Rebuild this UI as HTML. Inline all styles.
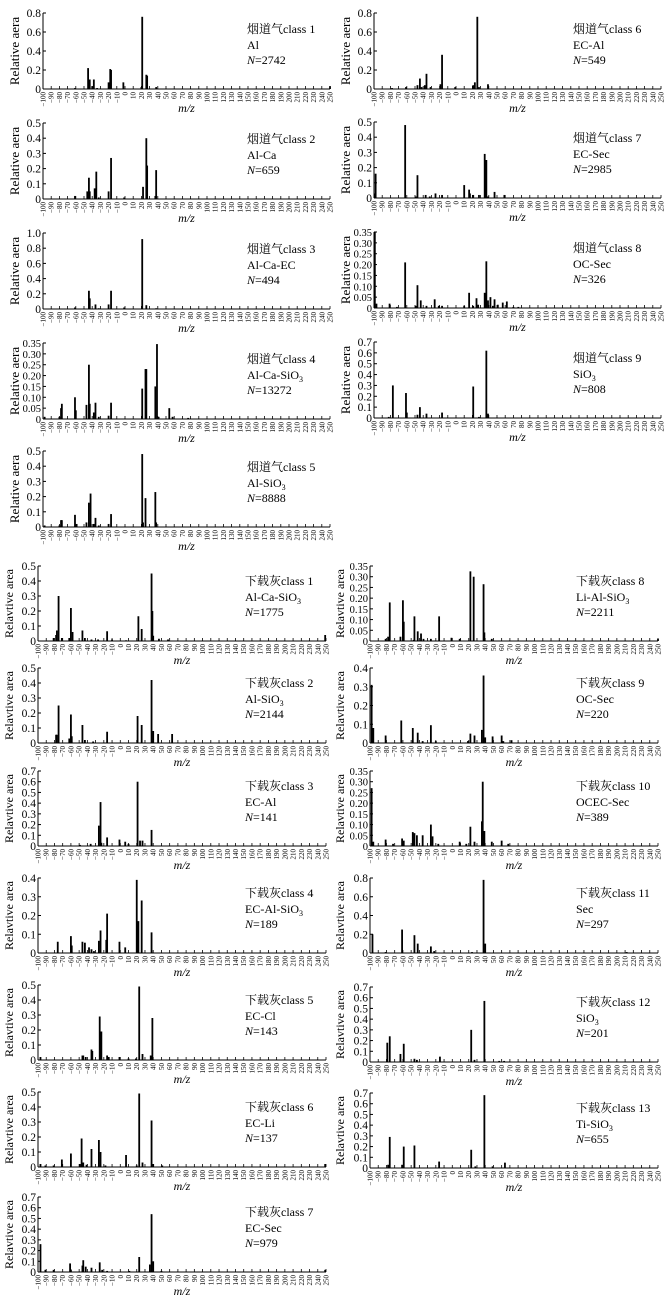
<!DOCTYPE html>
<html><head><meta charset="utf-8">
<style>
html,body{margin:0;padding:0;background:#fff;}
svg{display:block;font-family:"Liberation Serif","Noto Serif CJK SC","Noto Sans CJK SC",serif;}
</style></head>
<body>
<svg id="fig" width="672" height="1304" viewBox="0 0 672 1304" xmlns="http://www.w3.org/2000/svg"></svg>
<script>
// ---- data: m/z positions and relative areas per class ----
const f1_mz=[-61,-45,-43,-40,-38,-34,-20,-18,-17,-2,20,21,26,27,38,250];
const f1_val=[.01,.22,.1,.03,.1,.01,.07,.21,.2,.07,.02,.76,.15,.14,.02,.03];
const f2_mz=[-61,-46,-44,-43,-37,-35,-32,-20,-17,-1,22,26,27,37,38];
const f2_val=[.02,.05,.14,.05,.07,.18,.01,.05,.27,.01,.08,.4,.22,.02,.19];
const f3_mz=[-61,-44,-43,-36,-32,-20,-17,-1,21,26,38];
const f3_val=[.02,.24,.14,.06,.01,.06,.24,.02,.92,.05,.01];
const f4_mz=[-98,-80,-78,-77,-61,-60,-47,-44,-43,-38,-36,-32,-20,-17,21,25,26,37,39,41,54,58,77];
const f4_val=[.01,.01,.05,.07,.1,.04,.065,.25,.07,.03,.075,.01,.015,.075,.14,.23,.23,.15,.345,.01,.05,.01,.005];
const f5_mz=[-98,-80,-78,-77,-61,-59,-47,-44,-42,-38,-36,-32,-20,-17,21,22,25,37,38];
const f5_val=[.01,.01,.045,.045,.08,.02,.03,.16,.22,.02,.06,.01,.02,.085,.48,.03,.19,.23,.03];
const f6_mz=[-78,-61,-47,-44,-42,-38,-36,-31,-19,-17,-1,21,23,26,28,39];
const f6_val=[.01,.02,.04,.11,.02,.04,.16,.02,.05,.36,.02,.04,.07,.76,.02,.05];
const f7_mz=[-98,-99,-62,-49,-47,-37,-32,-25,-17,10,16,17,21,28,35,37,39,47,59];
const f7_val=[.16,.03,.48,.01,.15,.02,.01,.03,.02,.085,.055,.03,.02,.02,.29,.25,.01,.04,.02];
const f8_mz=[-99,-97,-81,-72,-62,-49,-47,-43,-36,-26,-21,-17,10,16,21,25,27,35,37,39,42,45,47,51,57,62,70,76];
const f8_val=[.35,.02,.02,.005,.21,.01,.105,.035,.01,.04,.01,.01,.01,.07,.01,.045,.015,.07,.215,.035,.05,.01,.04,.015,.025,.03,.005,.005];
const f9_mz=[-82,-77,-61,-60,-47,-44,-36,-17,21,28,37,39];
const f9_val=[.01,.3,.23,.05,.03,.1,.04,.05,.29,.01,.62,.04];
const d1_mz=[-81,-78,-77,-75,-71,-62,-60,-58,-46,-43,-35,-27,-16,-10,7,22,26,38,39,40,47,58,249];
const d1_val=[.02,.04,.07,.3,.02,.02,.22,.06,.07,.02,.01,.01,.065,.01,.005,.165,.08,.45,.2,.035,.015,.01,.04];
const d2_mz=[-78,-77,-75,-62,-60,-59,-46,-43,-33,-16,21,26,38,40,46,63];
const d2_val=[.055,.055,.25,.03,.19,.045,.12,.02,.01,.075,.18,.12,.42,.08,.06,.06];
const d3_mz=[-49,-36,-26,-24,-23,-16,-1,6,10,21,24,27,38];
const d3_val=[.01,.02,.19,.41,.03,.08,.06,.04,.02,.6,.05,.05,.15];
const d4_mz=[-76,-60,-59,-46,-43,-38,-35,-32,-26,-24,-17,-16,-1,6,20,22,26,38];
const d4_val=[.06,.09,.04,.06,.055,.03,.02,.01,.065,.12,.07,.21,.06,.03,.39,.17,.28,.11];
const d5_mz=[-97,-46,-45,-42,-35,-34,-25,-23,-16,-14,-1,10,19,23,27,37,39];
const d5_val=[.02,.03,.03,.02,.07,.06,.29,.19,.03,.02,.02,.01,.01,.49,.04,.03,.28];
const d6_mz=[-97,-91,-81,-71,-60,-49,-47,-45,-41,-35,-26,-24,-18,7,20,23,27,38,40,51,249];
const d6_val=[.02,.01,.01,.05,.09,.02,.19,.03,.015,.12,.18,.1,.01,.08,.01,.49,.03,.31,.02,.01,.02];
const d7_mz=[-97,-91,-81,-61,-60,-46,-45,-42,-35,-25,-22,-16,11,23,36,38,40,50,249];
const d7_val=[.26,.02,.02,.08,.02,.06,.11,.05,.04,.09,.02,.01,.01,.14,.07,.54,.1,.01,.02];
const d8_mz=[-81,-78,-76,-63,-60,-59,-47,-46,-42,-38,-35,-26,-16,-1,9,22,26,38,39,48,250];
const d8_val=[.01,.02,.18,.02,.19,.09,.005,.115,.045,.035,.01,.01,.115,.015,.01,.325,.3,.265,.04,.01,.01];
const d9_mz=[-98,-96,-81,-62,-48,-42,-36,-26,-20,19,22,27,36,38,40,49,60,62,72];
const d9_val=[.31,.08,.04,.12,.08,.055,.01,.095,.01,.01,.05,.04,.07,.36,.03,.035,.04,.01,.015];
const d10_mz=[-98,-96,-81,-72,-61,-59,-48,-46,-43,-36,-26,-24,-17,9,17,22,27,36,37,39,48,60,68];
const d10_val=[.27,.02,.03,.01,.035,.025,.065,.06,.05,.05,.1,.045,.01,.02,.01,.09,.02,.115,.3,.07,.02,.025,.01];
const d11_mz=[-97,-81,-61,-46,-42,-26,-22,24,38,40,212];
const d11_val=[.2,.01,.25,.19,.1,.07,.02,.01,.78,.1,.01];
const d12_mz=[-79,-76,-63,-59,-46,-43,-15,23,27,39,57,63];
const d12_val=[.18,.24,.075,.17,.03,.02,.05,.3,.02,.57,.01,.01];
const d13_mz=[-78,-76,-61,-59,-46,-16,23,28,39,49,64];
const d13_val=[.03,.29,.03,.2,.21,.06,.17,.015,.68,.015,.05];
// y-axis maxima and tick steps per class
const flueMax=[0.8,0.5,1.0,0.35,0.5,0.8,0.5,0.35,0.7];
const flueStep=[0.2,0.1,0.2,0.05,0.1,0.2,0.1,0.05,0.1];
const flueType=["Al","Al-Ca","Al-Ca-EC","Al-Ca-SiO3","Al-SiO3","EC-Al","EC-Sec","OC-Sec","SiO3"];
const flueN=["2742","659","494","13272","8888","549","2985","326","808"];
const ashMax=[0.5,0.5,0.7,0.4,0.5,0.5,0.7,0.35,0.4,0.35,0.8,0.7,0.7];
const ashStep=[0.1,0.1,0.1,0.1,0.1,0.1,0.1,0.05,0.1,0.05,0.2,0.1,0.1];
const ashType=["Al-Ca-SiO3","Al-SiO3","EC-Al","EC-Al-SiO3","EC-Cl","EC-Li","EC-Sec","Li-Al-SiO3","OC-Sec","OCEC-Sec","Sec","SiO3","Ti-SiO3"];
const ashN=["1775","2144","141","189","143","137","979","2211","220","389","297","201","655"];
const xTicks=[];for(let v=-100;v<=250;v+=10)xTicks.push(v);

const flueMz=[f1_mz,f2_mz,f3_mz,f4_mz,f5_mz,f6_mz,f7_mz,f8_mz,f9_mz];
const flueVal=[f1_val,f2_val,f3_val,f4_val,f5_val,f6_val,f7_val,f8_val,f9_val];
const ashMz=[d1_mz,d2_mz,d3_mz,d4_mz,d5_mz,d6_mz,d7_mz,d8_mz,d9_mz,d10_mz,d11_mz,d12_mz,d13_mz];
const ashVal=[d1_val,d2_val,d3_val,d4_val,d5_val,d6_val,d7_val,d8_val,d9_val,d10_val,d11_val,d12_val,d13_val];

const NS="http://www.w3.org/2000/svg";
const svg=document.getElementById('fig');
function mk(tag,attrs,parent){const e=document.createElementNS(NS,tag);for(const k in attrs)e.setAttribute(k,attrs[k]);(parent||svg).appendChild(e);return e;}

function panel(o){
  const g=mk('g',{});
  
  
  const xs=v=>o.x0+(v+100)/350*(o.x1-o.x0);
  const ys=v=>o.zero-v/o.max*o.h;
  const ya=mk('line',{x1:o.x0,y1:o.zero,x2:o.x0,y2:ys(o.max),stroke:'#000','stroke-width':1},g);
  
  
  const xa=mk('line',{x1:o.x0,y1:o.zero,x2:o.x1,y2:o.zero,stroke:'#000','stroke-width':1},g);
  
  
  const n=Math.round(o.max/o.step);
  const dec=o.step<0.1?2:1;
  const tfs=dec===2?10.5:11.5;
  for(let i=0;i<=n;i++){
    const v=i*o.step,y=ys(v);
    mk('line',{x1:o.x0,y1:y,x2:o.x0+3,y2:y,stroke:'#000','stroke-width':1},g);
    const t=mk('text',{x:o.x0-2,y:y+4,'font-size':tfs,'text-anchor':'end'},g);
    t.textContent=i===0?'0':v.toFixed(dec);
    
    
  }
  xTicks.forEach(v=>{
    const x=xs(v);
    mk('line',{x1:x,y1:o.zero,x2:x,y2:o.zero-3,stroke:'#000','stroke-width':0.8},g);
    const t=mk('text',{x:0,y:0,'font-size':7,'text-anchor':'end',transform:`translate(${x+2.5},${o.zero+3}) rotate(-90)`},g);
    t.textContent=v<0?'\u2212'+(-v):String(v);
    
    
  });
  o.mz.forEach((m,i)=>{
    const v=o.val[i];const y=ys(v);
    const b=mk('rect',{x:xs(m)-0.9,y:y,width:1.8,height:o.zero-y,fill:'#000'},g);
    
    
  });
  const yt=mk('text',{x:0,y:0,'font-size':o.yfs,'text-anchor':'middle',transform:`translate(${o.ytx},${o.zero-o.h/2}) rotate(-90)`},g);
  yt.textContent=o.ytitle;
  
  
  const xt=mk('text',{x:(o.x0+o.x1)/2,y:o.zero+23,'font-size':12,'font-style':'italic','text-anchor':'middle'},g);
  xt.textContent='m/z';
  
  
  const l1=mk('text',{x:o.lx,y:o.zero-56,'font-size':12},g);
  l1.textContent=o.label;
  
  
  const l2=mk('text',{x:o.lx,y:o.zero-40,'font-size':12},g);
  
  
  if(o.type.endsWith('SiO3')){l2.textContent=o.type.slice(0,-1);const s=mk('tspan',{'font-size':8,dy:3},l2);s.textContent='3';}
  else l2.textContent=o.type;
  const l3=mk('text',{x:o.lx,y:o.zero-25,'font-size':12},g);
  
  
  const it=mk('tspan',{'font-style':'italic'},l3);it.textContent='N';
  const r=mk('tspan',{},l3);r.textContent='='+o.N;
}

const flueZeroL=[89,199,309,419,527],flueZeroR=[89,198,308,418];
for(let i=0;i<9;i++){
  const left=i<5;
  panel({id:'flue-gas-class-'+(i+1),mz:flueMz[i],val:flueVal[i],max:flueMax[i],step:flueStep[i],
    x0:left?43:374,x1:left?330:661,zero:left?flueZeroL[i]:flueZeroR[i-5],h:76,
    ytitle:'Relative aera',ytx:left?19:350,yfs:13,lx:left?247:573,
    label:'烟道气class '+(i+1),type:flueType[i],N:flueN[i]});
}
const ashZeroL=[641,743,846,953,1060,1167,1272],ashZeroR=[641,743,846,953,1062,1168];
for(let i=0;i<13;i++){
  const left=i<7;
  panel({id:'ash-class-'+(i+1),mz:ashMz[i],val:ashVal[i],max:ashMax[i],step:ashStep[i],
    x0:left?38:370,x1:left?326:658,zero:left?ashZeroL[i]:ashZeroR[i-7],h:75,
    ytitle:'Relavtive area',ytx:left?13:344,yfs:12,lx:left?245:576,
    label:'下载灰class '+(i+1),type:ashType[i],N:ashN[i]});
}
</script>
</body></html>
